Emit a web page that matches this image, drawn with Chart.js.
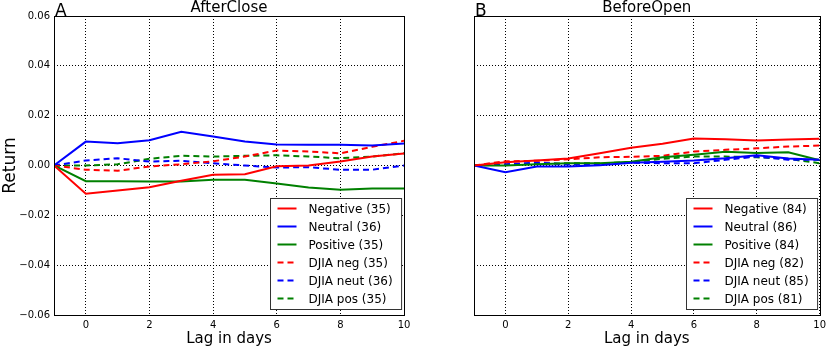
<!DOCTYPE html>
<html>
<head>
<meta charset="utf-8">
<script src="https://cdn.jsdelivr.net/npm/chart.js@4.4.1/dist/chart.umd.min.js"></script>
<style>
  html, body { margin: 0; padding: 0; background: #fff; }
  #wrap { position: relative; width: 830px; height: 348px; }
  .pane { position: absolute; top: 0; width: 415px; height: 348px; }
  #pa { left: 0; }
  #pb { left: 415px; }
</style>
</head>
<body>
<div id="wrap">
  <div class="pane" id="pa"><canvas id="ca"></canvas></div>
  <div class="pane" id="pb"><canvas id="cb"></canvas></div>
</div>
<script>
// ---- data ----
const lags = [-1, 0, 1, 2, 3, 4, 5, 6, 7, 8, 9, 10];
const xTicks = [0, 2, 4, 6, 8, 10];
const yTicks = [-0.06, -0.04, -0.02, 0.00, 0.02, 0.04, 0.06];
const seriesNames = ["Negative", "Neutral", "Positive", "DJIA neg", "DJIA neut", "DJIA pos"];

// Panel A: AfterClose
const acNegative = [0, -0.0113, -0.0100, -0.0087, -0.0061, -0.0037, -0.0035, -0.0003, 0.0000, 0.0016, 0.0036, 0.0048];
const acNeutral  = [0, 0.0096, 0.0089, 0.0101, 0.0135, 0.0116, 0.0096, 0.0084, 0.0083, 0.0083, 0.0080, 0.0088];
const acPositive = [0, -0.0063, -0.0063, -0.0064, -0.0064, -0.0057, -0.0057, -0.0072, -0.0088, -0.0097, -0.0092, -0.0092];
const acDjiaNeg  = [0, -0.0017, -0.0021, -0.0004, 0.0005, 0.0017, 0.0036, 0.0060, 0.0056, 0.0049, 0.0075, 0.0099];
const acDjiaNeut = [0, 0.0020, 0.0029, 0.0016, 0.0019, 0.0009, 0.0000, -0.0008, -0.0007, -0.0017, -0.0017, 0.0000];
const acDjiaPos  = [0, 0.0000, 0.0005, 0.0027, 0.0039, 0.0036, 0.0039, 0.0041, 0.0036, 0.0029, 0.0036, 0.0049];
const acCounts = [35, 36, 35, 35, 36, 35];

// Panel B: BeforeOpen
const boNegative = [0, 0.0013, 0.0020, 0.0028, 0.0049, 0.0071, 0.0087, 0.0108, 0.0105, 0.0100, 0.0104, 0.0107];
const boNeutral  = [0, -0.0027, -0.0004, -0.0004, 0.0001, 0.0011, 0.0015, 0.0020, 0.0029, 0.0041, 0.0028, 0.0023];
const boPositive = [0, 0.0000, 0.0005, 0.0009, 0.0009, 0.0015, 0.0033, 0.0043, 0.0055, 0.0050, 0.0053, 0.0021];
const boDjiaNeg  = [0, 0.0017, 0.0019, 0.0025, 0.0033, 0.0035, 0.0039, 0.0056, 0.0063, 0.0069, 0.0076, 0.0080];
const boDjiaNeut = [0, 0.0005, 0.0012, 0.0004, 0.0004, 0.0011, 0.0009, 0.0009, 0.0023, 0.0036, 0.0023, 0.0023];
const boDjiaPos  = [0, 0.0003, 0.0007, 0.0009, 0.0009, 0.0013, 0.0027, 0.0036, 0.0036, 0.0033, 0.0027, 0.0009];
const boCounts = [84, 86, 84, 82, 85, 81];

const colors = ["#ff0000", "#0000ff", "#008000", "#ff0000", "#0000ff", "#008000"];
const FONT = "'DejaVu Sans', sans-serif";

function fmtTick(v) {
  const s = Math.abs(v).toFixed(2);
  return (v < -1e-9 ? "\u2212" : "") + s;
}

const framePlugin = {
  id: 'panelDecor',
  afterDraw(chart) {
    const o = chart.options.plugins.panelDecor;
    const ctx = chart.ctx;
    const a = chart.chartArea;
    ctx.save();
    // frame
    ctx.strokeStyle = '#000';
    ctx.lineWidth = 1;
    ctx.setLineDash([]);
    ctx.strokeRect(Math.round(a.left) + 0.5, Math.round(a.top) + 0.5,
                   Math.round(a.right - a.left), Math.round(a.bottom - a.top));
    // title
    ctx.fillStyle = '#000';
    ctx.font = "15px " + FONT;
    ctx.textAlign = 'center';
    ctx.textBaseline = 'middle';
    ctx.fillText(o.title, (a.left + a.right) / 2, 8);
    // letter
    ctx.font = "17px " + FONT;
    ctx.textAlign = 'left';
    ctx.textBaseline = 'alphabetic';
    ctx.fillText(o.letter, a.left + 1, a.top);
    // legend box
    const ds = chart.data.datasets;
    ctx.font = "12px " + FONT;
    let tw = 0;
    ds.forEach(d => { tw = Math.max(tw, ctx.measureText(d.label).width); });
    const padL = 7, sample = 19, gap = 12, padR = 9, rowH = 18, padT = 10;
    const bw = padL + sample + gap + tw + padR;
    const bh = ds.length * rowH + 3;
    const bx = Math.round(a.right - 3 - bw) + 0.5;
    const by = Math.round(a.bottom - 6 - bh) + 0.5;
    ctx.fillStyle = '#fff';
    ctx.fillRect(bx, by, bw, bh);
    ctx.strokeStyle = '#333';
    ctx.lineWidth = 1;
    ctx.strokeRect(bx, by, bw, bh);
    ds.forEach((d, i) => {
      const cy = by + padT + i * rowH;
      ctx.strokeStyle = d.borderColor;
      ctx.lineWidth = 2;
      ctx.setLineDash(d.borderDash || []);
      ctx.beginPath();
      ctx.moveTo(bx + padL, cy);
      ctx.lineTo(bx + padL + sample, cy);
      ctx.stroke();
      ctx.setLineDash([]);
      ctx.fillStyle = '#000';
      ctx.textBaseline = 'middle';
      ctx.fillText(d.label, bx + padL + sample + gap, cy + 1);
    });
    ctx.restore();
  }
};

function makePanel(canvasId, title, letter, series, counts, showY, yWidth, padRight) {
  const datasets = series.map((vals, i) => ({
    label: seriesNames[i] + " (" + counts[i] + ")",
    data: lags.map((x, j) => ({ x: x, y: vals[j] })),
    borderColor: colors[i],
    backgroundColor: colors[i],
    borderWidth: 2,
    borderDash: i >= 3 ? [6, 4] : [],
    pointRadius: 0,
    tension: 0,
    fill: false
  }));
  return new Chart(document.getElementById(canvasId), {
    type: 'line',
    data: { datasets },
    plugins: [framePlugin],
    options: {
      responsive: true,
      maintainAspectRatio: false,
      animation: false,
      layout: { padding: { top: 16, right: padRight, left: 0, bottom: 0 } },
      plugins: {
        legend: { display: false },
        title: { display: false },
        tooltip: { enabled: false },
        panelDecor: { title: title, letter: letter }
      },
      scales: {
        x: {
          type: 'linear',
          min: -1, max: 10,
          afterBuildTicks: s => { s.ticks = xTicks.map(v => ({ value: v })); },
          afterFit: s => { s.height = 33; },
          grid: { color: '#000', lineWidth: 1, drawTicks: false },
          border: { display: false, dash: [1, 2] },
          ticks: { padding: 4, color: '#000', font: { family: FONT, size: 10 }, maxRotation: 0,
                   callback: v => String(v) },
          title: { display: true, text: 'Lag in days', color: '#000', padding: 0,
                   font: { family: FONT, size: 15 } }
        },
        y: {
          min: -0.06, max: 0.06,
          afterBuildTicks: s => { s.ticks = yTicks.map(v => ({ value: v })); },
          afterFit: s => { s.width = yWidth; },
          grid: { color: '#000', lineWidth: 1, drawTicks: false },
          border: { display: false, dash: [1, 2] },
          ticks: { display: showY, padding: 4, color: '#000', font: { family: FONT, size: 10 },
                   callback: v => fmtTick(v) },
          title: { display: showY, text: 'Return', color: '#000', padding: 0,
                   font: { family: FONT, size: 17 } }
        }
      }
    }
  });
}

makePanel('ca', 'AfterClose', 'A',
  [acNegative, acNeutral, acPositive, acDjiaNeg, acDjiaNeut, acDjiaPos], acCounts, true, 54, 11);
makePanel('cb', 'BeforeOpen', 'B',
  [boNegative, boNeutral, boPositive, boDjiaNeg, boDjiaNeut, boDjiaPos], boCounts, false, 59, 7);
</script>
</body>
</html>
